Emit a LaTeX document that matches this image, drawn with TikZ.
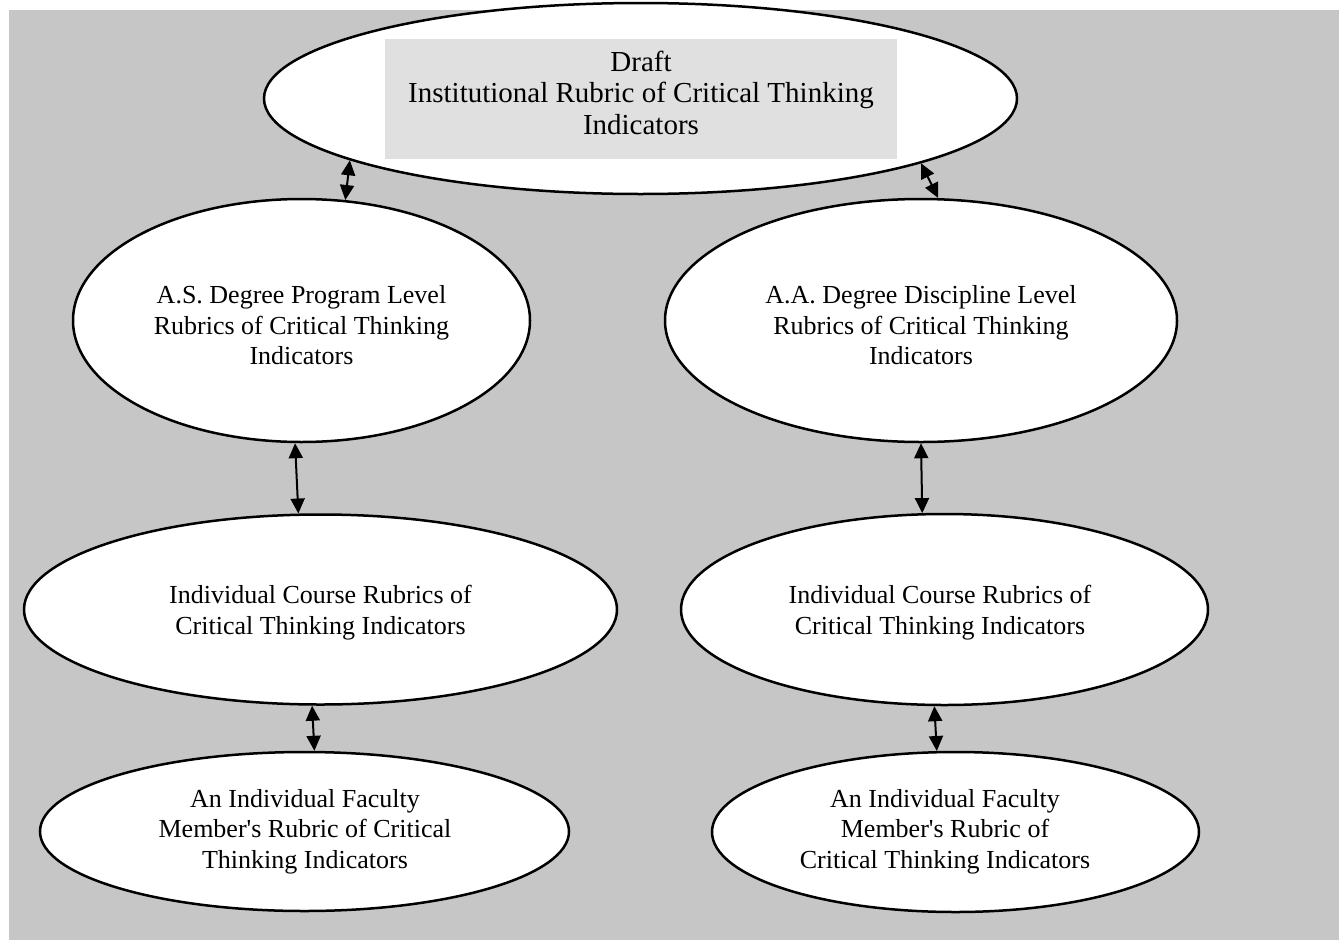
\documentclass[tikz,border=0pt]{standalone}
\usepackage{fontspec}
\setmainfont{Liberation Serif}[Ligatures=TeXOff]
\usetikzlibrary{shapes.geometric,arrows.meta}
\definecolor{bggray}{HTML}{C6C6C6}
\definecolor{boxgray}{HTML}{E0E0E0}
\tikzset{
  oval/.style={ellipse, draw=black, line width=2.5pt, fill=white, inner sep=0pt},
  lbl/.style={align=center, font=\fontsize{26}{30.5}\selectfont, inner sep=0pt},
  link/.style={line width=2pt, {Triangle[length=15pt,width=14pt]}-{Triangle[length=15pt,width=14pt]}}
}
\begin{document}
\begin{tikzpicture}[x=1pt,y=-1pt]
\useasboundingbox (0,0) rectangle (1339,940);
\fill[bggray] (9,10) rectangle (1339,940);
% ellipses
\node[oval, minimum width=753pt, minimum height=191pt] (top) at (640.5,98.5) {};
\node[oval, minimum width=457pt, minimum height=243pt] (ls) at (301.5,320.5) {};
\node[oval, minimum width=512pt, minimum height=243pt] (rs) at (921,320.5) {};
\node[oval, minimum width=593pt, minimum height=190pt] (lt) at (320.5,609.5) {};
\node[oval, minimum width=527pt, minimum height=191pt] (rt) at (944.5,609.5) {};
\node[oval, minimum width=529pt, minimum height=159pt] (lb) at (304.5,831.5) {};
\node[oval, minimum width=487pt, minimum height=160pt] (rb) at (955.5,832) {};
% inner box of top
\node[fill=boxgray, minimum width=512pt, minimum height=120pt, inner sep=0pt] (box) at (641,99) {};
% texts
\node[lbl, font=\fontsize{29}{31.5}\selectfont] (ttop) at (641,92.5) {Draft\\Institutional Rubric of Critical Thinking\\Indicators};
\node[lbl] (tls) at (301.5,325.5) {A.S. Degree Program Level\\Rubrics of Critical Thinking\\Indicators};
\node[lbl] (trs) at (921,325.5) {A.A. Degree Discipline Level\\Rubrics of Critical Thinking\\Indicators};
\node[lbl] (tlt) at (320.5,612.5) {Individual Course Rubrics of\\Critical Thinking Indicators};
\node[lbl] (trt) at (940,612.5) {Individual Course Rubrics of\\Critical Thinking Indicators};
\node[lbl] (tlb) at (305,831.5) {An Individual Faculty\\Member's Rubric of Critical\\Thinking Indicators};
\node[lbl] (trb) at (945,831.5) {An Individual Faculty\\Member's Rubric of\\Critical Thinking Indicators};
% connectors
\draw[link] (top.192) -- (ls.70);
\draw[link] (top.347.8) -- (rs.82.4);
\draw[link] (ls.267.9) -- (lt.103.9);
\draw[link] (rs.270) -- (rt.103.8);
\draw[link] (lt.265.5) -- (lb.83.9);
\draw[link] (rt.264.9) -- (rb.103.7);
\end{tikzpicture}
\end{document}
